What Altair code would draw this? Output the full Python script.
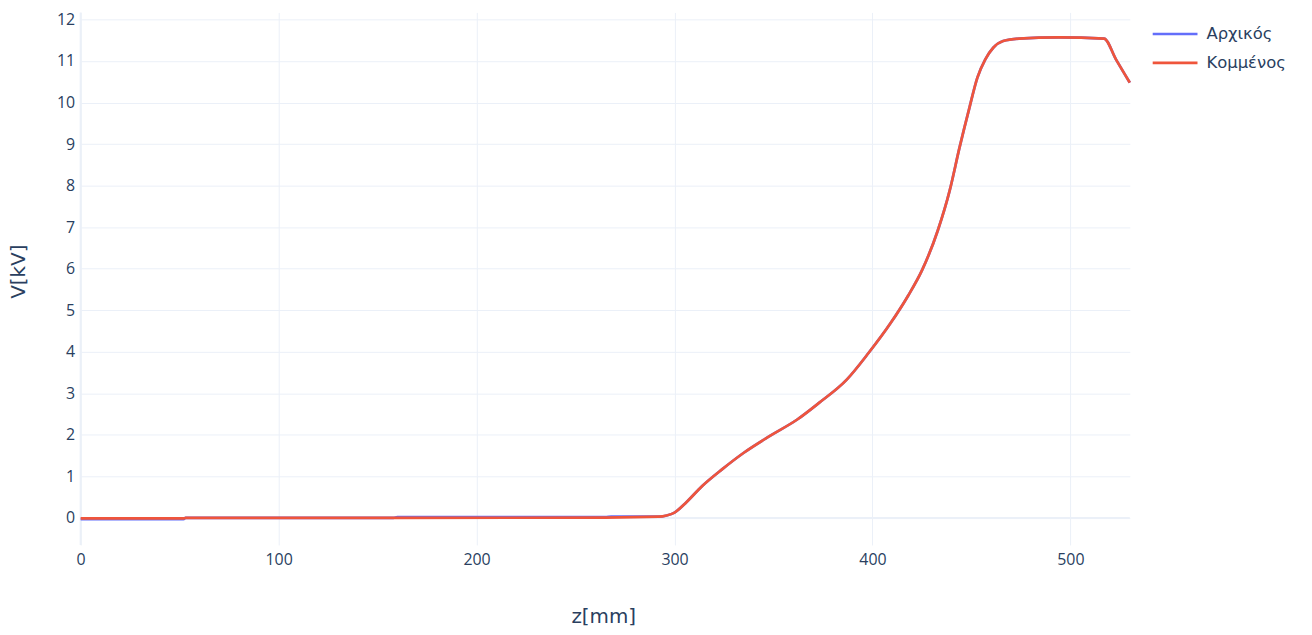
import altair as alt
import pandas as pd

# Κομμένος (red) series
z_red = [0, 52, 53, 160, 265, 292, 296, 300, 306, 314, 324, 335, 348, 362, 373, 387,
         398, 409, 418, 425, 433, 439, 444, 449, 453, 457, 461, 466, 474, 494, 517, 523, 530]
v_red = [-0.01, -0.01, 0.0, 0.0, 0.01, 0.03, 0.06, 0.13, 0.38, 0.77, 1.17, 1.57, 1.97, 2.37,
         2.77, 3.33, 3.97, 4.68, 5.35, 5.96, 6.92, 7.88, 8.92, 9.88, 10.6, 11.04, 11.32, 11.48,
         11.54, 11.57, 11.54, 11.04, 10.48]

# Αρχικός (blue) series
z_blue = [0, 52, 53, 158, 160, 265, 268, 292, 296, 300, 306, 314, 324, 335, 348, 362, 373, 387,
          398, 409, 418, 425, 433, 439, 444, 449, 453, 457, 461, 466, 474, 494, 517, 523, 530]
v_blue = [-0.03, -0.03, 0.0, 0.0, 0.02, 0.02, 0.03, 0.03, 0.06, 0.13, 0.38, 0.77, 1.17, 1.57,
          1.97, 2.37, 2.77, 3.33, 3.97, 4.68, 5.35, 5.96, 6.92, 7.88, 8.92, 9.88, 10.6, 11.04,
          11.32, 11.48, 11.54, 11.57, 11.54, 11.04, 10.48]

series_names = ["Αρχικός", "Κομμένος"]
series_colors = ["#636efa", "#EF553B"]
x_ticks = [0, 100, 200, 300, 400, 500]
y_ticks = list(range(0, 13))

df_blue = pd.DataFrame({"z": z_blue, "V": v_blue, "series": series_names[0]})
df_red = pd.DataFrame({"z": z_red, "V": v_red, "series": series_names[1]})
df_leg = pd.DataFrame({"series": series_names})

FONT = "Open Sans"
TFONT = "DejaVu Sans"
TXT = "#2a3f5f"
GRID = "#EBF0F8"
W = 1054

color = alt.Color("series:N", scale=alt.Scale(domain=series_names, range=series_colors), legend=None)

xs = alt.Scale(domain=[0, 530], nice=False, zero=False)
ys = alt.Scale(domain=[-0.65, 12.17], nice=False, zero=False)

x_enc = alt.X("z:Q", scale=xs, axis=alt.Axis(values=x_ticks, title="z[mm]", labelPadding=7,
                                             titleX=525, titleY=72, titleBaseline="middle",
                                             titleAlign="center"))
y_enc = alt.Y("V:Q", scale=ys, axis=alt.Axis(values=y_ticks, title="V[kV]", labelPadding=6,
                                             titleX=-62, titleY=260, titleAngle=-90,
                                             titleBaseline="middle", titleAlign="center"))

zero_h = alt.Chart(pd.DataFrame({"V": [0]})).mark_rule(color=GRID, strokeWidth=2).encode(y=alt.Y("V:Q", scale=ys))
zero_v = alt.Chart(pd.DataFrame({"z": [0]})).mark_rule(color=GRID, strokeWidth=2).encode(x=alt.X("z:Q", scale=xs))

blue = alt.Chart(df_blue).mark_line(strokeWidth=2.7, interpolate="monotone").encode(x=x_enc, y=y_enc, color=color)
red = alt.Chart(df_red).mark_line(strokeWidth=2.7, interpolate="monotone").encode(x=x_enc, y=y_enc, color=color)

main = alt.layer(zero_h, zero_v, blue, red)

leg_y = alt.Y("series:N", scale=alt.Scale(type="point", padding=0, domain=series_names, range=[21.7, 50.7]), axis=None)
leg_rule = alt.Chart(df_leg).mark_rule(strokeWidth=2.7).encode(
    x=alt.value(1077), x2=alt.value(1122), y=leg_y, color=color)
leg_text = alt.Chart(df_leg).mark_text(align="left", baseline="middle", font=TFONT, fontSize=16.5,
                                       color=TXT).encode(x=alt.value(1131), y=leg_y, text="series:N")
legend = alt.layer(leg_rule, leg_text)

chart = alt.layer(main, legend).resolve_scale(y="independent").properties(
    width=W, height=535,
    autosize=alt.AutoSizeParams(type="none"),
    padding={"left": 73, "top": 3, "right": 175, "bottom": 85},
).configure_view(stroke=None).configure_axis(
    domain=False, ticks=False, grid=True, gridColor=GRID, gridWidth=1, labelFlush=False,
    labelFont=FONT, labelFontSize=16, labelColor=TXT,
    titleFont=TFONT, titleFontSize=20, titleColor=TXT, titleFontWeight="normal",
)

chart.save("out.html", embed_options={"renderer": "svg", "actions": False})
